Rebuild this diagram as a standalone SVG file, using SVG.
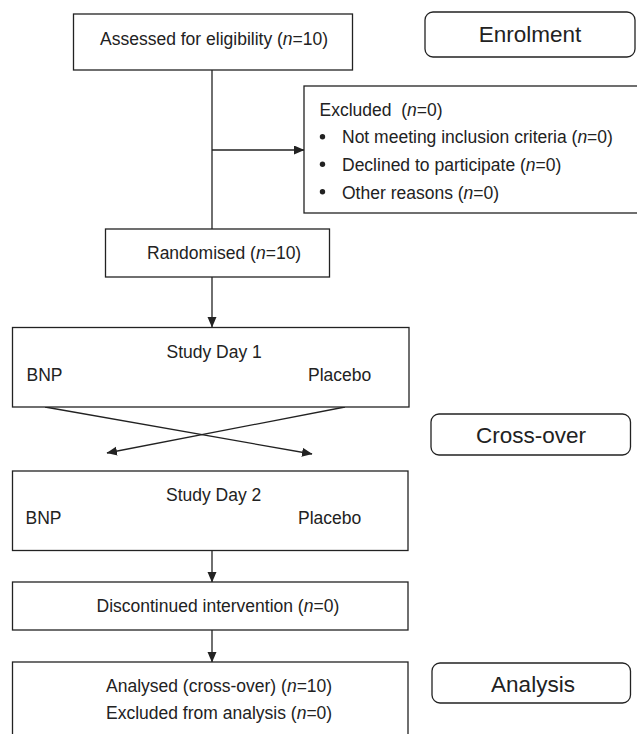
<svg xmlns="http://www.w3.org/2000/svg" width="637" height="734" viewBox="0 0 637 734">
<style>
.box{fill:#fff;stroke:#222;stroke-width:1.3}
.lab{fill:#fff;stroke:#222;stroke-width:1.3}
.t{font-family:"Liberation Sans",Arial,sans-serif;font-size:17.5px;fill:#222}
.L{font-family:"Liberation Sans",Arial,sans-serif;font-size:22.5px;fill:#222}
.c{stroke:#222;stroke-width:1.3;fill:none}
.i{font-style:italic}
</style>
<defs>
<marker id="ah" markerUnits="userSpaceOnUse" markerWidth="11" markerHeight="10" refX="10" refY="4.5" orient="auto">
<path d="M0,0 L10.5,4.5 L0,9 z" fill="#222"/>
</marker>
</defs>
<g id="connectors">
<line class="c" x1="212" y1="70" x2="212" y2="229"/>
<line class="c" x1="212" y1="150" x2="304" y2="150" marker-end="url(#ah)"/>
<line class="c" x1="212" y1="277" x2="212" y2="327" marker-end="url(#ah)"/>
<line class="c" x1="45" y1="407" x2="312" y2="454" marker-end="url(#ah)"/>
<line class="c" x1="345" y1="407" x2="107" y2="453" marker-end="url(#ah)"/>
<line class="c" x1="212" y1="551" x2="212" y2="582" marker-end="url(#ah)"/>
<line class="c" x1="212" y1="630" x2="212" y2="662" marker-end="url(#ah)"/>
</g>
<g id="assessed">
<rect class="box" x="73.5" y="14" width="279" height="56"/>
<text class="t" x="100" y="45">Assessed for eligibility (<tspan class="i">n</tspan>=10)</text>
</g>
<g id="enrolment">
<rect class="lab" x="425" y="12" width="210" height="45" rx="8"/>
<text class="L" x="530" y="42" text-anchor="middle">Enrolment</text>
</g>
<g id="excluded">
<rect class="box" x="304" y="86" width="340" height="127"/>
<text class="t" x="319.5" y="116" xml:space="preserve">Excluded  (<tspan class="i">n</tspan>=0)</text>
<circle cx="322.5" cy="136.7" r="2.7" fill="#222"/>
<text class="t" x="342" y="143">Not meeting inclusion criteria (<tspan class="i">n</tspan>=0)</text>
<circle cx="322.5" cy="164.2" r="2.7" fill="#222"/>
<text class="t" x="342" y="171">Declined to participate (<tspan class="i">n</tspan>=0)</text>
<circle cx="322.5" cy="191.7" r="2.7" fill="#222"/>
<text class="t" x="342" y="199">Other reasons (<tspan class="i">n</tspan>=0)</text>
</g>
<g id="randomised">
<rect class="box" x="105.5" y="229" width="224" height="48"/>
<text class="t" x="147" y="259">Randomised (<tspan class="i">n</tspan>=10)</text>
</g>
<g id="day1">
<rect class="box" x="12.5" y="327.5" width="396.5" height="79.5"/>
<text class="t" x="166.5" y="358">Study Day 1</text>
<text class="t" x="26.5" y="380.5">BNP</text>
<text class="t" x="308" y="380.5">Placebo</text>
</g>
<g id="crossover">
<rect class="lab" x="431" y="414" width="199.5" height="41" rx="8"/>
<text class="L" x="531" y="443" text-anchor="middle">Cross-over</text>
</g>
<g id="day2">
<rect class="box" x="12.5" y="471" width="395.5" height="79.5"/>
<text class="t" x="166" y="501">Study Day 2</text>
<text class="t" x="25.5" y="524">BNP</text>
<text class="t" x="298" y="524">Placebo</text>
</g>
<g id="discontinued">
<rect class="box" x="12.5" y="582" width="395.5" height="48"/>
<text class="t" x="96.5" y="612">Discontinued intervention (<tspan class="i">n</tspan>=0)</text>
</g>
<g id="analysed">
<rect class="box" x="12.5" y="662" width="395.5" height="90"/>
<text class="t" x="106" y="692">Analysed (cross-over) (<tspan class="i">n</tspan>=10)</text>
<text class="t" x="106" y="719">Excluded from analysis (<tspan class="i">n</tspan>=0)</text>
</g>
<g id="analysis">
<rect class="lab" x="432" y="663" width="198.5" height="40" rx="8"/>
<text class="L" x="533" y="692" text-anchor="middle">Analysis</text>
</g>
</svg>
